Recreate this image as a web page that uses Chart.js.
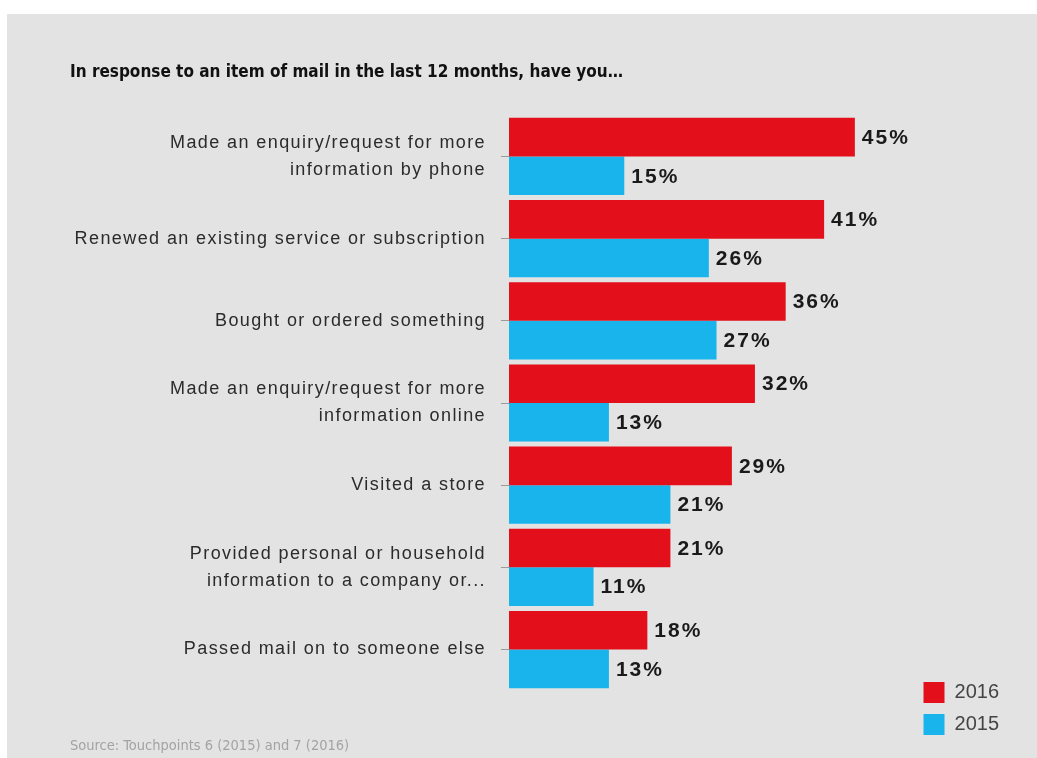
<!DOCTYPE html>
<html>
<head>
<meta charset="utf-8">
<script src="https://cdn.jsdelivr.net/npm/chart.js@4"></script>
<style>
  html, body { margin: 0; padding: 0; background: #fff; }
  #wrap { position: absolute; left: 7px; top: 14px; width: 1030px; height: 744px; background: #e3e3e3; }
</style>
</head>
<body>
<div id="wrap"><canvas id="chart"></canvas></div>
<script>
// chart data
const categories = [
  ["Made an enquiry/request for more", "information by phone"],
  "Renewed an existing service or subscription",
  "Bought or ordered something",
  ["Made an enquiry/request for more", "information online"],
  "Visited a store",
  ["Provided personal or household", "information to a company or..."],
  "Passed mail on to someone else"
];
const values2016 = [45, 41, 36, 32, 29, 21, 18];
const values2015 = [15, 26, 27, 13, 21, 11, 13];
const seriesNames = ["2016", "2015"];
const titleText = "In response to an item of mail in the last 12 months, have you\u2026";
const sourceText = "Source: Touchpoints 6 (2015) and 7 (2016)";

const sans = "'Liberation Sans', Arial, sans-serif";
const narrow = "'Liberation Sans Narrow', 'DejaVu Sans Condensed', sans-serif";

// no letter spacing for title/legend, wider spacing for the category labels
// (those are drawn on top of the datasets, see ticks.z below)
const spacing = {
    id: "spacing",
    beforeDraw(chart) { chart.ctx.letterSpacing = "0px"; },
    afterDatasetsDraw(chart) { chart.ctx.letterSpacing = "1.4px"; },
    afterDraw(chart) { chart.ctx.letterSpacing = "0px"; }
};

// percentage labels at the end of each bar
const valueLabels = {
    id: "valueLabels",
    afterDatasetsDraw(chart) {
        const ctx = chart.ctx;
        ctx.save();
        ctx.font = "bold 21px " + sans;
        ctx.letterSpacing = "2px";
        ctx.fillStyle = "#1a1a1a";
        ctx.textAlign = "left";
        ctx.textBaseline = "middle";
        chart.data.datasets.forEach((ds, i) => {
            chart.getDatasetMeta(i).data.forEach((bar, j) => {
                ctx.fillText(ds.data[j] + "%", bar.x + 7, bar.y + 1);
            });
        });
        ctx.restore();
    }
};

const ctx = document.getElementById("chart").getContext("2d");

new Chart(ctx, {
    type: "bar",
    data: {
        labels: categories,
        datasets: [
            { label: seriesNames[0], data: values2016, backgroundColor: "#e3101b" },
            { label: seriesNames[1], data: values2015, backgroundColor: "#18b4eb" }
        ]
    },
    options: {
        indexAxis: "y",
        responsive: true,
        maintainAspectRatio: false,
        animation: false,
        layout: { padding: { left: 63, top: 48, right: 28, bottom: 12 } },
        datasets: { bar: { categoryPercentage: 0.94, barPercentage: 1 } },
        scales: {
            x: { display: false, min: 0, max: 52.5 },
            y: {
                afterFit: function (scale) { scale.width = 439; },
                border: { display: false },
                grid: { display: true, drawOnChartArea: false, offset: false, tickLength: 8, color: "#9a9a9a" },
                ticks: {
                    z: 1,
                    color: "#2b2b2b",
                    padding: 15,
                    autoSkip: false,
                    font: { family: sans, size: 18, lineHeight: 1.5 }
                }
            }
        },
        plugins: {
            title: {
                display: true,
                text: titleText,
                align: "start",
                color: "#111",
                font: { family: narrow, size: 17, weight: "bold" },
                padding: { top: 0, bottom: 33 }
            },
            subtitle: {
                display: true,
                position: "bottom",
                text: sourceText,
                align: "start",
                color: "#a3a3a3",
                font: { family: narrow, size: 14.5 },
                padding: { top: 47, bottom: -9 }
            },
            legend: {
                position: "right",
                align: "end",
                fullSize: true,
                labels: {
                    boxWidth: 21,
                    boxHeight: 21,
                    color: "#444",
                    padding: 11,
                    font: { family: sans, size: 20 }
                }
            },
            tooltip: { enabled: false }
        }
    },
    plugins: [spacing, valueLabels]
});
</script>
</body>
</html>
